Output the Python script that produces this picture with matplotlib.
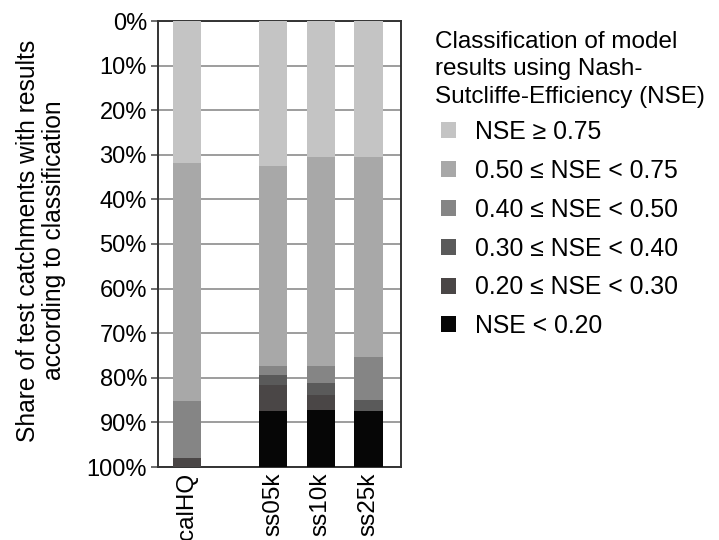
import matplotlib
matplotlib.use('Agg')
import matplotlib.pyplot as plt
from matplotlib.patches import Patch
import numpy as np

plt.rcParams['font.family'] = ['Liberation Sans', 'DejaVu Sans']

categories = ['calHQ', 'ss05k', 'ss10k', 'ss25k']
classes = ['NSE \u2265 0.75', '0.50 \u2264 NSE < 0.75', '0.40 \u2264 NSE < 0.50',
           '0.30 \u2264 NSE < 0.40', '0.20 \u2264 NSE < 0.30', 'NSE < 0.20']
# share (%) of catchments in each class, per model run
shares = {
    'calHQ': [31.8, 53.4, 12.8, 0.0, 2.0, 0.0],
    'ss05k': [32.5, 44.8, 2.0, 2.4, 5.7, 12.6],
    'ss10k': [30.6, 46.7, 3.9, 2.6, 3.4, 12.8],
    'ss25k': [30.6, 44.8, 9.6, 2.4, 0.0, 12.6],
}
colors = ['#c4c4c4', '#a8a8a8', '#858585', '#5a5a5a', '#4a4646', '#060606']
yticks = np.arange(0, 101, 10)

xpos = np.array([0, 1.8, 2.8, 3.8])

fig = plt.figure(figsize=(7.19, 5.4), dpi=100)
ax = fig.add_axes([158/719, 1 - 467/540, (401 - 158)/719, (467 - 21)/540])

vals = np.array([shares[c] for c in categories])
bottom = np.zeros(len(categories))
for i in range(len(classes)):
    ax.bar(xpos, vals[:, i], bottom=bottom, width=0.59, color=colors[i],
           zorder=3, linewidth=0)
    bottom += vals[:, i]

ax.set_ylim(100, 0)
ax.set_xlim(-0.614, 4.48)
ax.set_yticks(yticks)
ax.set_yticklabels([f'{v}%' for v in yticks])
ax.yaxis.grid(True, color='#8c8c8c', linewidth=1.2, zorder=0)
ax.set_axisbelow(True)
ax.set_xticks(xpos)
ax.set_xticklabels(categories, rotation=90)
ax.tick_params(axis='x', length=0, labelsize=17.5, pad=4)
ax.tick_params(axis='y', length=5, width=1.2, color='#555555', labelsize=17, pad=3)
for s in ax.spines.values():
    s.set_color('#333333')
    s.set_linewidth(1.4)

ax.set_ylabel('Share of test catchments with results\naccording to classification',
              fontsize=17.7, linespacing=1.1)
ax.yaxis.set_label_coords(-0.379, 0.508)

# legend title drawn separately so the entries can sit slightly indented
fig.text(435/719, 1 - 31/540, 'Classification of model\nresults using Nash-\nSutcliffe-Efficiency (NSE)',
         fontsize=17.5, ha='left', va='top', linespacing=1.32)

handles = [Patch(facecolor=c, edgecolor='none') for c in colors]
leg = fig.legend(handles, classes, loc='upper left', bbox_to_anchor=(441/719, 1 - 120/540),
                 frameon=False, fontsize=17.8,
                 handlelength=0.62, handleheight=0.62, handletextpad=0.77,
                 labelspacing=0.6, borderaxespad=0, borderpad=0)

fig.savefig('out.png', dpi=100)
